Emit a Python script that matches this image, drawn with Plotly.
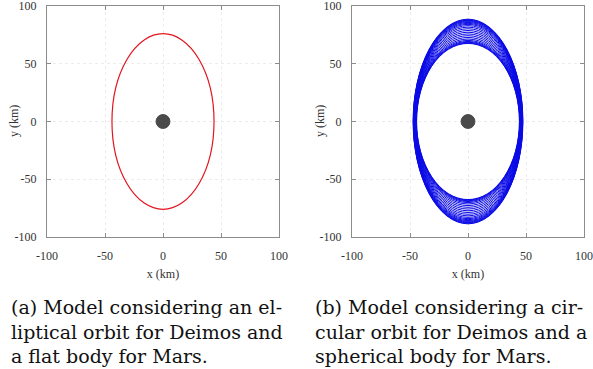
import plotly.graph_objects as go

# Data
tick_vals = [-100, -50, 0, 50, 100]
tick_text = ["-100", "-50", "0", "50", "100"]

# (a) elliptical orbit: semi-axes in km
ell_a_x = [44.0]
ell_a_y = [76.0]

# (b) circular-orbit model: family of orbit semi-axes (km)
orb_b_x = [44.3, 44.5, 44.7, 44.9, 45.1, 45.3, 45.5, 45.6, 45.8, 46.0, 46.1, 46.2, 46.4, 46.5, 46.6, 46.7, 46.8, 46.9, 47.0, 47.1, 47.2, 47.3]
orb_b_y = [67.6, 68.0, 68.6, 69.3, 70.2, 71.4, 72.8, 74.3, 75.8, 77.3, 78.8, 80.3, 81.7, 83.0, 84.1, 85.0, 85.8, 86.5, 87.1, 87.6, 88.1, 88.6]

mars_radius = 6.0

axis_title_x = "x (km)"
axis_title_y = "y (km)"
captions = [
    "(a) Model considering an el-<br>liptical orbit for Deimos and<br>a flat body for Mars.",
    "(b) Model considering a cir-<br>cular orbit for Deimos and a<br>spherical body for Mars.",
]

fig = go.Figure()
W, H = 593, 369
dom_x1 = [47 / W, 279 / W]
dom_x2 = [352 / W, 584 / W]
dom_y = [(H - 237) / H, (H - 6) / H]

fig.add_trace(go.Scatter(x=[0], y=[0], mode="markers", marker=dict(opacity=0), xaxis="x", yaxis="y", showlegend=False, hoverinfo="skip"))
fig.add_trace(go.Scatter(x=[0], y=[0], mode="markers", marker=dict(opacity=0), xaxis="x2", yaxis="y2", showlegend=False, hoverinfo="skip"))

shapes = []
for a, b in zip(ell_a_x, ell_a_y):
    shapes.append(dict(type="circle", xref="x", yref="y", x0=-a, x1=a, y0=-b, y1=b,
                       line=dict(color="#e3141e", width=1.2), layer="above"))
for a, b in zip(orb_b_x, orb_b_y):
    shapes.append(dict(type="circle", xref="x2", yref="y2", x0=-a, x1=a, y0=-b, y1=b,
                       line=dict(color="#0a0ae6", width=1.0), layer="above"))
for xr, yr in [("x", "y"), ("x2", "y2")]:
    shapes.append(dict(type="circle", xref=xr, yref=yr, x0=-mars_radius, x1=mars_radius,
                       y0=-mars_radius, y1=mars_radius, fillcolor="#4a4a4a",
                       line=dict(color="#4a4a4a", width=1), layer="above"))

tfont = dict(family="Liberation Serif", size=12, color="#333333")
axis_common = dict(range=[-100, 100], tickvals=tick_vals, ticktext=tick_text,
                   showgrid=True, gridcolor="#ececec", griddash="dot", gridwidth=1,
                   zeroline=False, showline=True, linecolor="#8c8c8c", linewidth=1,
                   mirror="ticks", ticks="inside", ticklen=4, tickcolor="#8c8c8c",
                   tickfont=tfont, automargin=False, fixedrange=True,
                   ticklabeloverflow="allow")

xax = dict(axis_common, ticklabelstandoff=8, title=dict(text=axis_title_x, standoff=7, font=tfont))
yax = dict(axis_common, ticklabelstandoff=7)

annotations = []
for xpix in (14, 320):
    annotations.append(dict(text=axis_title_y, x=xpix / W, y=1 - 121 / H, xref="paper", yref="paper",
                            xanchor="center", yanchor="middle", textangle=-90, showarrow=False,
                            font=tfont))
for i, xpix in enumerate((9, 313)):
    annotations.append(dict(text=captions[i], x=xpix / W, y=1 - 331 / H, xref="paper", yref="paper",
                            xanchor="left", yanchor="middle", align="left", showarrow=False,
                            font=dict(family="DejaVu Serif", size=19, color="#111111")))

fig.update_layout(
    width=W, height=H,
    margin=dict(l=0, r=0, t=0, b=0),
    paper_bgcolor="white", plot_bgcolor="white",
    showlegend=False,
    shapes=shapes,
    xaxis=dict(xax, domain=dom_x1, anchor="y"),
    yaxis=dict(yax, domain=dom_y, anchor="x"),
    xaxis2=dict(xax, domain=dom_x2, anchor="y2"),
    yaxis2=dict(yax, domain=dom_y, anchor="x2"),
    annotations=annotations,
)

fig.write_html("out.html", config={"displayModeBar": False},
               post_script="document.body.style.margin='0';document.body.style.overflow='hidden';")
